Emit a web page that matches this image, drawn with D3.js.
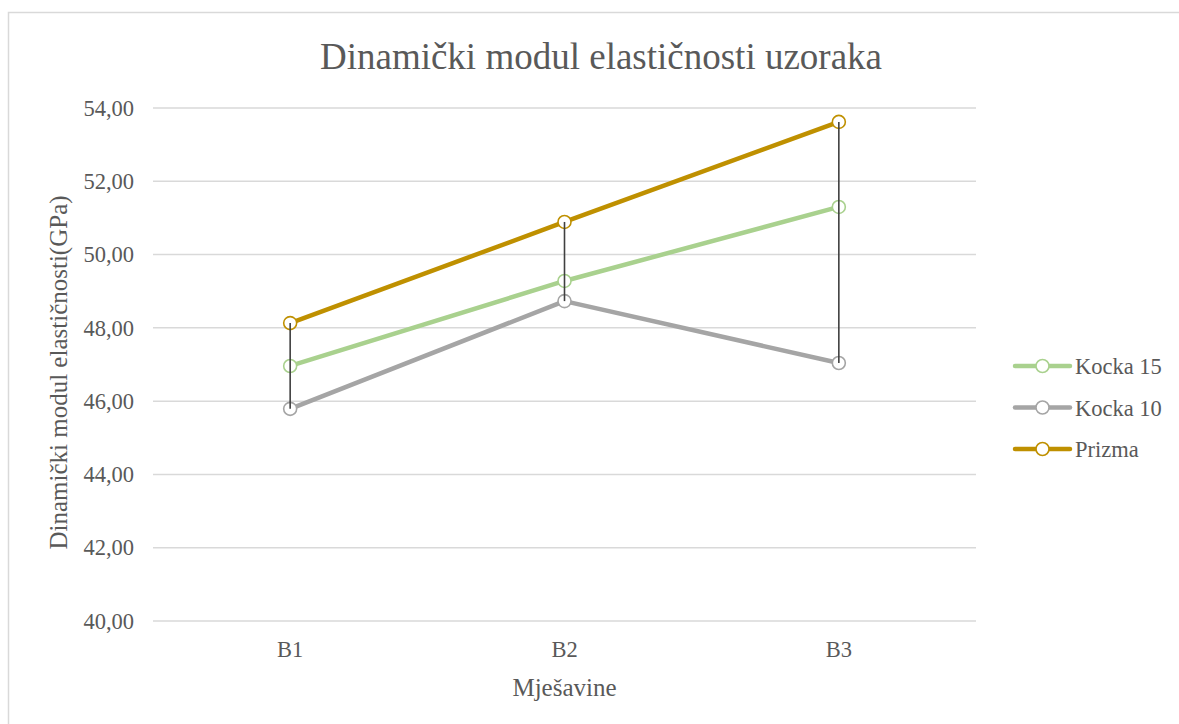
<!DOCTYPE html>
<html>
<head>
<meta charset="utf-8">
<script src="https://cdn.jsdelivr.net/npm/d3@7"></script>
<style>
  html, body { margin: 0; padding: 0; background: #fff; }
  svg { display: block; }
  text { font-family: "Liberation Serif", "Times New Roman", serif; fill: #595959; }
</style>
</head>
<body>
<svg id="chart" width="1179" height="724"></svg>
<script>
// Mixtures on the x axis
const categories = ["B1", "B2", "B3"];

// Dynamic modulus of elasticity (GPa) per specimen type
const kocka15 = [46.96, 49.28, 51.30];
const kocka10 = [45.79, 48.73, 47.04];
const prizma  = [48.13, 50.89, 53.62];

const seriesNames = ["Kocka 15", "Kocka 10", "Prizma"];
const seriesColors = ["#A9D18E", "#A5A5A5", "#BF9000"];

const yTicks = [40, 42, 44, 46, 48, 50, 52, 54];

const series = [kocka15, kocka10, prizma].map((values, i) => ({
  name: seriesNames[i], color: seriesColors[i], values
}));

const svg = d3.select("#chart");

// chart-area frame
svg.append("rect")
  .attr("x", 8.5).attr("y", 12.5)
  .attr("width", 1300).attr("height", 900)
  .attr("fill", "none").attr("stroke", "#d9d9d9").attr("stroke-width", 1.5);

const plot = { left: 153, right: 976, top: 108, bottom: 621 };

const x = d3.scaleBand().domain(categories).range([plot.left, plot.right]);
const y = d3.scaleLinear().domain([40, 54]).range([plot.bottom, plot.top]);
const cx = c => x(c) + x.bandwidth() / 2;

// gridlines
svg.append("g")
  .selectAll("line").data(yTicks).join("line")
  .attr("x1", plot.left).attr("x2", plot.right)
  .attr("y1", d => y(d)).attr("y2", d => y(d))
  .attr("stroke", "#d9d9d9").attr("stroke-width", 1.5);

// y axis labels
const fmt = d => d3.format(".2f")(d).replace(".", ",");
const yAxis = svg.append("g")
  .attr("transform", `translate(${plot.left},0)`)
  .call(d3.axisLeft(y).tickValues(yTicks).tickFormat(fmt).tickSize(0).tickPadding(19));
yAxis.select(".domain").remove();
yAxis.selectAll("text")
  .style("font-family", '"Liberation Serif", serif')
  .style("font-size", "22.5px").attr("fill", "#595959");

// x axis labels
const xAxis = svg.append("g")
  .attr("transform", `translate(0,${plot.bottom})`)
  .call(d3.axisBottom(x).tickSize(0).tickPadding(20));
xAxis.select(".domain").remove();
xAxis.selectAll("text")
  .style("font-family", '"Liberation Serif", serif')
  .style("font-size", "22.5px").attr("fill", "#595959");

// series lines
const line = d3.line().x((d, i) => cx(categories[i])).y(d => y(d));
svg.append("g")
  .selectAll("path").data(series).join("path")
  .attr("d", s => line(s.values))
  .attr("fill", "none")
  .attr("stroke", s => s.color)
  .attr("stroke-width", 4.5)
  .attr("stroke-linejoin", "round");

// hollow markers
series.forEach(s => {
  svg.append("g")
    .selectAll("circle").data(s.values).join("circle")
    .attr("cx", (d, i) => cx(categories[i]))
    .attr("cy", d => y(d))
    .attr("r", 6.5)
    .attr("fill", "#fff")
    .attr("stroke", s.color)
    .attr("stroke-width", 1.6);
});

// high-low lines from the highest to the lowest value of each mixture
svg.append("g")
  .selectAll("line").data(categories).join("line")
  .attr("x1", cx).attr("x2", cx)
  .attr("y1", (c, i) => y(d3.max(series, s => s.values[i])))
  .attr("y2", (c, i) => y(d3.min(series, s => s.values[i])))
  .attr("stroke", "#404040").attr("stroke-width", 1.6);

// title
svg.append("text")
  .attr("x", 601).attr("y", 69)
  .attr("text-anchor", "middle")
  .style("font-size", "37px")
  .text("Dinamički modul elastičnosti uzoraka");

// axis titles
svg.append("text")
  .attr("transform", `translate(67,${(plot.top + plot.bottom) / 2 + 8}) rotate(-90)`)
  .attr("text-anchor", "middle")
  .style("font-size", "25px")
  .text("Dinamički modul elastičnosti(GPa)");

svg.append("text")
  .attr("x", (plot.left + plot.right) / 2).attr("y", 696)
  .attr("text-anchor", "middle")
  .style("font-size", "25px")
  .text("Mješavine");

// legend
const legend = svg.append("g")
  .selectAll("g").data(series).join("g")
  .attr("transform", (d, i) => `translate(1015,${366 + i * 41.5})`);
legend.append("line")
  .attr("x1", 0).attr("x2", 55)
  .attr("stroke", d => d.color).attr("stroke-width", 4.5)
  .attr("stroke-linecap", "round");
legend.append("circle")
  .attr("cx", 27.5).attr("r", 6.5)
  .attr("fill", "#fff").attr("stroke", d => d.color).attr("stroke-width", 1.6);
legend.append("text")
  .attr("x", 60).attr("y", 8)
  .style("font-size", "22.5px")
  .text(d => d.name);
</script>
</body>
</html>
